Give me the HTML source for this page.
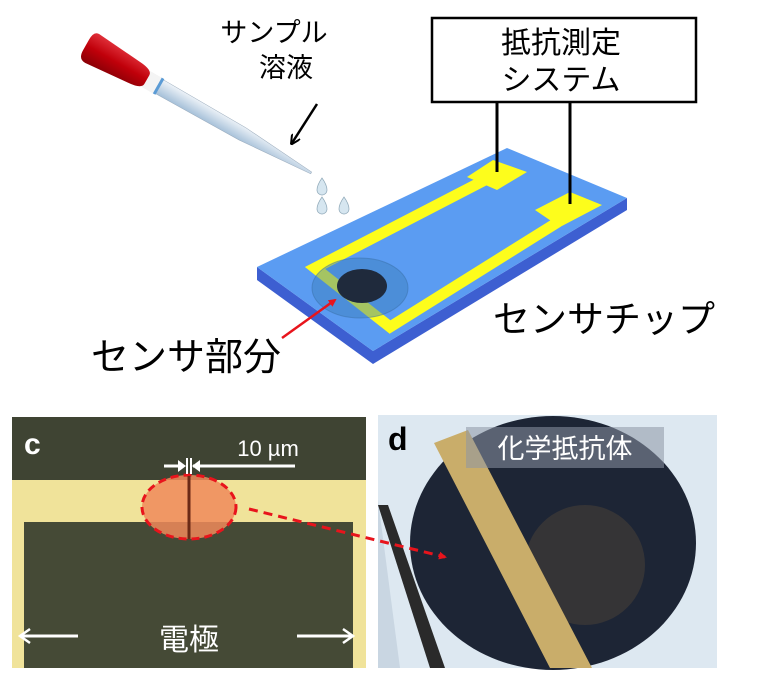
<!DOCTYPE html>
<html><head><meta charset="utf-8"><style>
body{margin:0;width:757px;height:684px;background:#fff;overflow:hidden}
svg text{font-family:"Liberation Sans","Noto Sans CJK JP",sans-serif}
</style></head><body>
<svg width="757" height="684" viewBox="0 0 757 684" xmlns="http://www.w3.org/2000/svg">
<defs>
<linearGradient id="tube" x1="0" y1="0" x2="0" y2="1"><stop offset="0" stop-color="#eef3f8"/><stop offset="1" stop-color="#a4bfd8"/></linearGradient>
<linearGradient id="bulb" x1="0" y1="0" x2="0" y2="1"><stop offset="0" stop-color="#e0303a"/><stop offset="0.5" stop-color="#c0000a"/><stop offset="1" stop-color="#8a0006"/></linearGradient>
<marker id="ra" markerWidth="8" markerHeight="8" refX="6" refY="4" orient="auto" markerUnits="userSpaceOnUse"><path d="M0,0 L8,4 L0,8z" fill="#e8141c"/></marker>
<marker id="ka" markerWidth="10" markerHeight="10" refX="8" refY="5" orient="auto" markerUnits="userSpaceOnUse"><path d="M0,0 L10,5 L0,10" fill="none" stroke="#000" stroke-width="2"/></marker>
</defs>
<!-- pipette -->
<g transform="translate(86,45) rotate(29.6)">
<polygon points="82,-8 180,-7 259,-1 259,1 180,7 82,8" fill="url(#tube)" stroke="#9ab" stroke-width="0.5"/>
<rect x="68" y="-9" width="16" height="18" fill="#f4f4f4"/>
<rect x="82" y="-9" width="3" height="18" fill="#5b9bd5"/>
<path d="M6,-16 Q0,-16 0,-6 L0,6 Q0,16 8,16 L55,12 Q70,11 70,5 L70,-5 Q70,-11 55,-12 Z" fill="url(#bulb)"/>
</g>
<path d="M322,178 q-5,7 -5,12 a5,5 0 0 0 10,0 q0,-5 -5,-12z" fill="#d6e6f0" stroke="#8fa8b8" stroke-width="0.7"/>
<path d="M322,197 q-5,7 -5,12 a5,5 0 0 0 10,0 q0,-5 -5,-12z" fill="#d6e6f0" stroke="#8fa8b8" stroke-width="0.7"/>
<path d="M344,197 q-5,7 -5,12 a5,5 0 0 0 10,0 q0,-5 -5,-12z" fill="#d6e6f0" stroke="#8fa8b8" stroke-width="0.7"/>
<text x="274" y="42" font-size="27" text-anchor="middle">サンプル</text>
<text x="286" y="77" font-size="27" text-anchor="middle">溶液</text>
<line x1="317" y1="104" x2="292" y2="143" stroke="#000" stroke-width="2.5" marker-end="url(#ka)"/>
<!-- chip -->
<polygon points="257,267 373,351 627,198 627,210 373,364 257,280" fill="#3d5fd1"/>
<polygon points="257,267 507,148 627,198 373,351" fill="#5b9cf2"/>
<polyline points="485,180 315,268 390,327 558,222" fill="none" stroke="#fdfd1c" stroke-width="11" stroke-linejoin="miter"/>
<polygon points="467,177 493,160 527,172 497,190" fill="#fdfd1c"/>
<polygon points="535,210 570,192 602,205 560,227" fill="#fdfd1c"/>
<ellipse cx="360" cy="288" rx="48" ry="30" fill="#3a7fb8" fill-opacity="0.45" stroke="#3a70a8" stroke-opacity="0.5"/>
<ellipse cx="362" cy="286" rx="25" ry="17" fill="#1f2a3c"/>
<line x1="282" y1="338" x2="335" y2="300" stroke="#e8141c" stroke-width="2.5" marker-end="url(#ra)"/>
<line x1="497" y1="102" x2="497" y2="172" stroke="#000" stroke-width="3"/>
<line x1="570" y1="102" x2="570" y2="204" stroke="#000" stroke-width="3"/>
<rect x="432" y="18" width="264" height="84" fill="#fff" stroke="#000" stroke-width="2.5"/>
<text x="561" y="53" font-size="30" text-anchor="middle">抵抗測定</text>
<text x="561" y="90" font-size="30" text-anchor="middle">システム</text>
<text x="604" y="332" font-size="37" text-anchor="middle">センサチップ</text>
<text x="186" y="370" font-size="38" text-anchor="middle">センサ部分</text>
<!-- panel c -->
<rect x="12" y="417" width="354" height="251" fill="#f0e39a"/>
<rect x="12" y="417" width="354" height="63" fill="#3f4433"/>
<rect x="24" y="522" width="329" height="146" fill="#454a36"/>
<ellipse cx="189" cy="507" rx="47" ry="32" fill="#f08a5a" fill-opacity="0.85" stroke="#e8141c" stroke-width="3" stroke-dasharray="8,5"/>
<line x1="189" y1="476" x2="189" y2="539" stroke="#6b2a16" stroke-width="3"/>
<line x1="193" y1="466" x2="295" y2="466" stroke="#fff" stroke-width="3"/>
<line x1="164" y1="466" x2="184" y2="466" stroke="#fff" stroke-width="3"/>
<path d="M178,460 L186,466 L178,472" fill="#fff"/><path d="M200,460 L192,466 L200,472" fill="#fff"/>
<line x1="187" y1="458" x2="187" y2="474" stroke="#fff" stroke-width="2"/><line x1="191" y1="458" x2="191" y2="474" stroke="#fff" stroke-width="2"/>
<text x="268" y="456" font-size="22" fill="#fff" text-anchor="middle">10 µm</text>
<text x="24" y="454" font-size="30" font-weight="bold" fill="#fff">c</text>
<text x="189" y="650" font-size="30" fill="#fff" text-anchor="middle">電極</text>
<line x1="22" y1="636" x2="78" y2="636" stroke="#fff" stroke-width="3"/><path d="M30,629 L20,636 L30,643" fill="none" stroke="#fff" stroke-width="2.5"/>
<line x1="297" y1="636" x2="351" y2="636" stroke="#fff" stroke-width="3"/><path d="M343,629 L353,636 L343,643" fill="none" stroke="#fff" stroke-width="2.5"/>
<!-- panel d -->
<rect x="378" y="415" width="339" height="253" fill="#dde8f1"/>
<polygon points="378,500 378,668 400,668" fill="#c9d6e2"/>
<ellipse cx="553" cy="543" rx="143" ry="127" fill="#1d2535"/>
<ellipse cx="585" cy="565" rx="60" ry="60" fill="#5a4a3a" fill-opacity="0.4"/>
<polygon points="434,443 468,430 592,668 550,668" fill="#c9ad6a"/>
<polygon points="378,505 388,505 445,668 430,668" fill="#2a2a2a"/>
<rect x="466" y="427" width="198" height="41" fill="#8d96a4" fill-opacity="0.55"/>
<text x="565" y="458" font-size="27" fill="#fff" text-anchor="middle">化学抵抗体</text>
<text x="388" y="450" font-size="32" font-weight="bold" fill="#000">d</text>
<line x1="249" y1="509" x2="445" y2="557" stroke="#e8141c" stroke-width="3" stroke-dasharray="9,6" marker-end="url(#ra)"/>
</svg>
</body></html>
